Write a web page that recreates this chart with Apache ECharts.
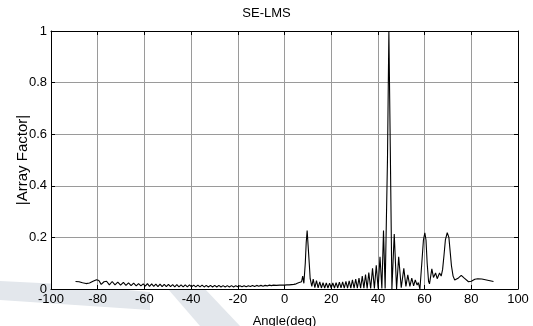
<!DOCTYPE html>
<html>
<head>
<meta charset="utf-8">
<script src="https://cdn.jsdelivr.net/npm/echarts@6/dist/echarts.min.js"></script>
<style>
  html, body { margin: 0; padding: 0; background: #fff; }
  #chart { width: 533px; height: 326px; }
</style>
</head>
<body>
<div id="chart"></div>
<script>
// x ticks and y ticks
const xTicks = [-100, -80, -60, -40, -20, 0, 20, 40, 60, 80, 100]
const yTicks = [0, 0.2, 0.4, 0.6, 0.8, 1]

// |AF|, [angle deg, value], split by region
const farLeft = [
    [-89.5, 0.029], [-88, 0.028], [-86.5, 0.024], [-85, 0.021], [-83.5, 0.023], [-82, 0.03],
    [-80.5, 0.036], [-79.5, 0.033], [-78.5, 0.018], [-77.3, 0.028], [-76.2, 0.03], [-75, 0.016],
    [-73.8, 0.029], [-72.6, 0.016], [-71.4, 0.027], [-70.2, 0.015], [-69, 0.026], [-67.9, 0.014],
    [-66.8, 0.024], [-65.7, 0.013], [-64.6, 0.023], [-63.5, 0.012], [-62.5, 0.021], [-61.5, 0.012],
    [-60.5, 0.02],
]

const leftFloor = [
    [-59.6, 0.011], [-58.7, 0.021], [-57.8, 0.01], [-56.9, 0.02], [-56.0, 0.01], [-55.1, 0.019],
    [-54.2, 0.009], [-53.3, 0.019], [-52.4, 0.009], [-51.5, 0.018], [-50.6, 0.009], [-49.7, 0.018],
    [-48.8, 0.009], [-47.9, 0.017], [-47.0, 0.008], [-46.1, 0.017], [-45.2, 0.008], [-44.3, 0.016],
    [-43.4, 0.008], [-42.5, 0.016], [-41.6, 0.008], [-40.7, 0.016], [-39.8, 0.008], [-38.9, 0.015],
    [-38.0, 0.008], [-37.1, 0.015], [-36.2, 0.008], [-35.3, 0.015], [-34.4, 0.008], [-33.5, 0.014],
    [-32.6, 0.008], [-31.7, 0.014], [-30.8, 0.008], [-29.9, 0.014], [-29.0, 0.008], [-28.1, 0.014],
    [-27.2, 0.008], [-26.3, 0.013], [-25.4, 0.008], [-24.5, 0.013], [-23.6, 0.008], [-22.7, 0.013],
    [-21.8, 0.008], [-20.9, 0.013], [-20.0, 0.009], [-19.1, 0.013], [-18.2, 0.009], [-17.3, 0.013],
    [-16.4, 0.009], [-15.5, 0.013], [-14.6, 0.01], [-13.7, 0.014], [-12.8, 0.01], [-11.9, 0.014],
    [-11.0, 0.011], [-10.1, 0.014], [-9.2, 0.011], [-8.3, 0.014], [-7.4, 0.012], [-6.5, 0.015],
    [-5.6, 0.013], [-4.7, 0.015], [-3.5, 0.014], [-2.0, 0.015],
]

const nearBeam = [
    [0, 0.015], [1, 0.016], [2, 0.016], [3, 0.017], [4, 0.018], [5, 0.02], [6, 0.024],
    [6.8, 0.03], [7.3, 0.028], [7.8, 0.05], [8.3, 0.022], [8.9, 0.1], [9.3, 0.18], [9.7, 0.227],
    [10.1, 0.17], [10.6, 0.1], [11.0, 0.04], [11.3, 0.045], [11.7, 0.01], [12.3, 0.038],
    [13.0, 0.005], [13.7, 0.032], [14.4, 0.004], [15.1, 0.028], [15.8, 0.004], [16.5, 0.025],
    [17.2, 0.004], [17.9, 0.024], [18.6, 0.004], [19.3, 0.023], [20.0, 0.004], [20.7, 0.024],
    [21.4, 0.004], [22.1, 0.025], [22.8, 0.004], [23.5, 0.027], [24.2, 0.004], [24.9, 0.028],
    [25.6, 0.003], [26.3, 0.03], [27.0, 0.003], [27.7, 0.032], [28.4, 0.003], [29.1, 0.035],
    [29.8, 0.003], [30.5, 0.038], [31.2, 0.003], [31.9, 0.042], [32.6, 0.003], [33.3, 0.05],
    [34.0, 0.003], [34.7, 0.056], [35.4, 0.002], [36.1, 0.064], [36.9, 0.002], [37.7, 0.08],
    [38.5, 0.002], [39.3, 0.092], [40.1, 0.002], [40.9, 0.125], [41.7, 0.002], [42.4, 0.227],
    [43.1, 0.002],
]

const mainLobe = [
    [43.6, 0.0], [44.1, 0.5], [44.7, 1.0], [45.3, 0.55], [46.0, 0.0],
]

const rightSide = [
    [47.0, 0.213], [48.0, 0.0], [48.9, 0.125], [50.0, 0.005], [51.1, 0.08], [52.0, 0.01],
    [52.8, 0.055], [53.7, 0.01], [54.5, 0.042], [55.3, 0.012], [56.0, 0.035], [56.8, 0.015],
    [57.3, 0.025], [58.0, 0.0], [58.8, 0.1], [59.5, 0.19], [60.1, 0.218], [60.6, 0.19],
    [61.1, 0.1], [61.7, 0.03], [62.1, 0.02], [63.1, 0.078], [63.8, 0.045], [64.7, 0.062],
    [65.4, 0.04], [66.4, 0.062], [67.1, 0.05], [67.7, 0.075], [68.3, 0.13], [68.9, 0.19],
    [69.7, 0.218], [70.4, 0.2], [71.0, 0.14], [71.5, 0.09], [72.2, 0.05], [72.9, 0.035],
    [73.5, 0.032], [74.5, 0.043], [75.7, 0.053], [77.0, 0.042], [78.8, 0.028], [80.0, 0.03],
    [81.5, 0.038], [82.8, 0.04], [84.5, 0.039], [86.5, 0.035], [88.0, 0.032], [89.5, 0.029],
]

const pattern = [...farLeft, ...leftFloor, ...nearBeam, ...mainLobe, ...rightSide]

const font = 'Liberation Sans, Arial, sans-serif'
const gridColor = '#9a9a9a'
const washColor = '#e3e7ec'

const chart = echarts.init(document.getElementById('chart'))

const boxAxis = {
    axisLine: { show: true, onZero: false, lineStyle: { color: '#000', width: 1 } },
    axisTick: { show: true, inside: true, length: 4, lineStyle: { color: '#000' } },
    axisLabel: { show: false },
    splitLine: { show: false },
}

chart.setOption({
    animation: false,
    backgroundColor: '#fff',
    // faint watermark swooshes behind the axes box
    graphic: [
        {
            type: 'polygon',
            z: -10,
            shape: { points: [[0, 281], [60, 284], [150, 292], [150, 310], [60, 304], [0, 300]] },
            style: { fill: washColor },
        },
        {
            type: 'polygon',
            z: -10,
            shape: { points: [[168, 289], [205, 289], [240, 326], [200, 326]] },
            style: { fill: washColor },
        },
        {
            type: 'rect',
            z: -5,
            shape: { x: 51, y: 31, width: 467, height: 258 },
            style: { fill: '#fff' },
        },
    ],
    title: {
        text: 'SE-LMS',
        left: 'center',
        top: 2,
        textStyle: { fontFamily: font, fontSize: 13, fontWeight: 'normal', color: '#000' },
    },
    grid: { left: 51, right: 15, top: 31, bottom: 37, outerBoundsMode: 'none' },
    xAxis: [
        {
            type: 'value',
            min: xTicks[0],
            max: xTicks[xTicks.length - 1],
            interval: 20,
            name: 'Angle(deg)',
            nameLocation: 'middle',
            nameGap: 26,
            nameMoveOverlap: false,
            nameTextStyle: { fontFamily: font, fontSize: 13, color: '#000' },
            axisLine: { show: true, onZero: false, lineStyle: { color: '#000', width: 1 } },
            axisTick: { show: true, inside: true, length: 4, lineStyle: { color: '#000' } },
            axisLabel: { fontFamily: font, fontSize: 13, color: '#000', margin: 4 },
            splitLine: { show: true, lineStyle: { color: gridColor, width: 1 } },
        },
        {
            type: 'value',
            position: 'top',
            min: xTicks[0],
            max: xTicks[xTicks.length - 1],
            interval: 20,
            ...boxAxis,
        },
    ],
    yAxis: [
        {
            type: 'value',
            min: yTicks[0],
            max: yTicks[yTicks.length - 1],
            interval: 0.2,
            name: '|Array Factor|',
            nameLocation: 'middle',
            nameGap: 21,
            nameMoveOverlap: false,
            nameTextStyle: { fontFamily: font, fontSize: 15, color: '#000' },
            axisLine: { show: true, onZero: false, lineStyle: { color: '#000', width: 1 } },
            axisTick: { show: true, inside: true, length: 4, lineStyle: { color: '#000' } },
            axisLabel: {
                fontFamily: font,
                fontSize: 13,
                color: '#000',
                margin: 4,
                formatter: (v) => String(Math.round(v * 10) / 10),
            },
            splitLine: { show: true, lineStyle: { color: gridColor, width: 1 } },
        },
        {
            type: 'value',
            position: 'right',
            min: yTicks[0],
            max: yTicks[yTicks.length - 1],
            interval: 0.2,
            ...boxAxis,
        },
    ],
    series: [
        {
            type: 'line',
            data: pattern,
            showSymbol: false,
            smooth: false,
            lineStyle: { color: '#000', width: 1.1 },
            z: 5,
        },
    ],
})
</script>
</body>
</html>
